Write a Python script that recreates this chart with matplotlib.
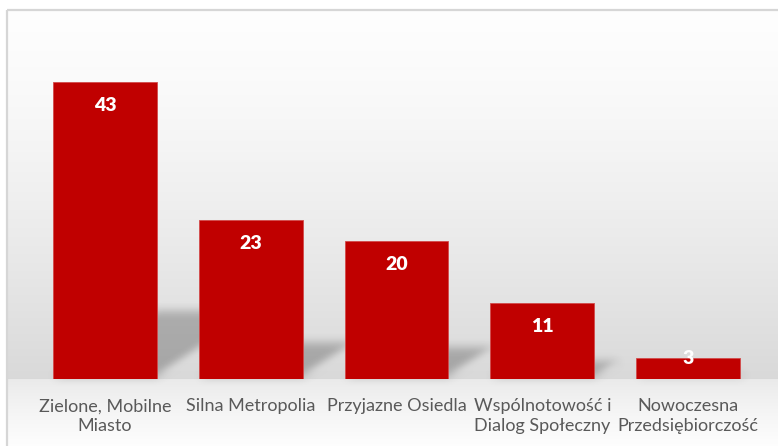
import numpy as np
import matplotlib
matplotlib.use("Agg")
import matplotlib.pyplot as plt
from matplotlib.patches import Polygon, Rectangle

categories = ["Zielone, Mobilne\nMiasto", "Silna Metropolia", "Przyjazne Osiedla",
              "Wspólnotowość i\nDialog Społeczny", "Nowoczesna\nPrzedsiębiorczość"]
values = [43, 23, 20, 11, 3]

BAR_COLOR = "#C00000"
W, H = 778, 446
FONT = "Lato"

fig = plt.figure(figsize=(W / 100, H / 100), dpi=100)
fig.patch.set_facecolor("white")

# background: framed panel with vertical gradient (wall above the floor line, floor below)
bg = fig.add_axes([0, 0, 1, 1], zorder=0)
bg.set_xlim(0, W)
bg.set_ylim(H, 0)
bg.axis("off")
ys = np.arange(H)
col = np.ones(H)
wall = (ys >= 9) & (ys < 379)
t = (ys[wall] - 9) / (379 - 9)
col[wall] = 0.995 - (0.995 - 0.85) * t ** 1.4
floor = ys >= 379
t2 = (ys[floor] - 379) / (H - 379)
col[floor] = 0.915 + (0.995 - 0.915) * t2 ** 0.8
img = np.repeat(col[:, None], W, axis=1)
img[:, :7] = 1.0
img[:9, :] = 1.0
bg.imshow(np.dstack([img] * 3), extent=(0, W, H, 0), aspect="auto", interpolation="bilinear")
bg.add_patch(Rectangle((7, 10), W + 20, H + 20, fill=False, edgecolor="#d6d6d6", linewidth=1.6))


def _box(a, r, axis):
    c = np.cumsum(a, axis=axis)
    n = a.shape[axis]
    idx = np.arange(n)
    hi = np.clip(idx + r, 0, n - 1)
    lo = idx - r - 1
    shape = [-1 if k == axis else 1 for k in range(a.ndim)]
    ch = np.take(c, hi, axis=axis)
    cl = np.where((lo >= 0).reshape(shape), np.take(c, np.clip(lo, 0, n - 1), axis=axis), 0.0)
    return (ch - cl) / (2 * r + 1)


def soft_blur(image, dpi):
    pad = 20
    a = np.pad(image, ((pad, pad), (pad, pad), (0, 0)))
    for _ in range(3):
        a = _box(a, 4, 0)
        a = _box(a, 4, 1)
    return a, -pad, -pad


ax = fig.add_axes([32 / W, (H - 379) / H, 729 / W, 345 / H], zorder=1)
ax.patch.set_alpha(0)
x = np.arange(len(values))
width = 0.713
ax.set_xlim(-0.5, len(values) - 0.5)
ax.set_ylim(0, 50)

# perspective shadows cast up and to the right behind each bar
px_x = 729 / 5.0
px_y = 345 / 50.0
for xi, v in zip(x, values):
    hs = 0.23 * v
    dx = hs * px_y * 1.5 / px_x
    poly = Polygon([(xi - width / 2, 0.3), (xi + width / 2, 0.3),
                    (xi + width / 2 + dx, hs), (xi - width / 2 + dx, hs)],
                   closed=True, facecolor="black", alpha=0.24, edgecolor="none", zorder=1)
    poly.set_agg_filter(soft_blur)
    ax.add_patch(poly)

ax.bar(x, values, width=width, color=BAR_COLOR, zorder=3, edgecolor="#d24a4a", linewidth=0.6)

for xi, v in zip(x, values):
    y = v - 3.4 if v > 6 else v
    ax.text(xi, y, str(v), ha="center", va="center", color="white",
            fontsize=14, fontweight="heavy", family=FONT, zorder=4)

ax.set_xticks(x)
ax.set_xticklabels(categories, fontsize=13, color="#595959", family=FONT, linespacing=1.25)
ax.tick_params(axis="x", length=0, pad=14)
ax.set_yticks([])
for s in ax.spines.values():
    s.set_visible(False)

fig.savefig("out.png", dpi=100)
